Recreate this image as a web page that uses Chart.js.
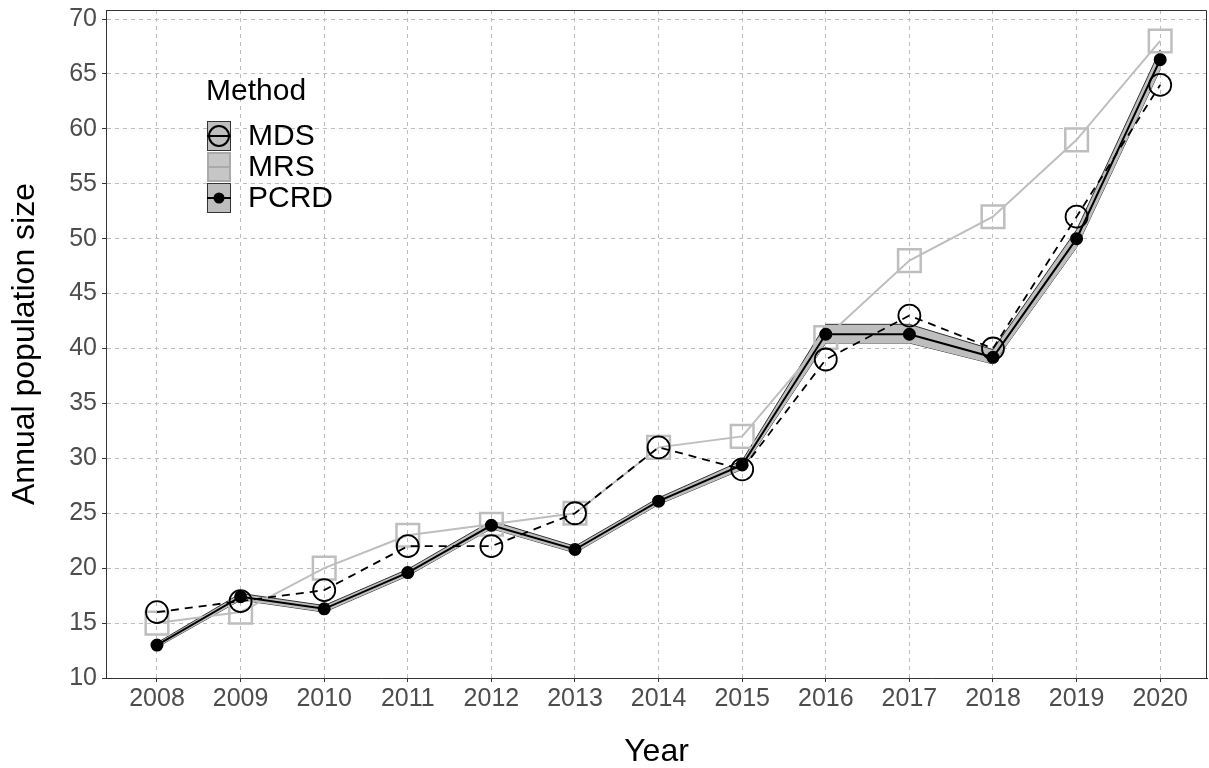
<!DOCTYPE html>
<html>
<head>
<meta charset="utf-8">
<script src="https://cdn.jsdelivr.net/npm/chart.js@4/dist/chart.umd.min.js"></script>
<style>
  html, body { margin: 0; padding: 0; background: #ffffff; }
  #wrap { width: 1209px; height: 768px; position: relative; }
</style>
</head>
<body>
<div id="wrap"><canvas id="popChart"></canvas></div>
<script>
// values
const years = [2008, 2009, 2010, 2011, 2012, 2013, 2014, 2015, 2016, 2017, 2018, 2019, 2020];
const mds = [16, 17, 18, 22, 22, 25, 31, 29, 39, 43, 40, 52, 64];
const mrs = [15, 16, 20, 23, 24, 25, 31, 32, 41, 48, 52, 59, 68];
const pcrd = [13.0, 17.4, 16.3, 19.6, 23.9, 21.7, 26.1, 29.4, 41.3, 41.3, 39.2, 50.0, 66.3];
const pcrdLower = [12.8, 17.1, 16.0, 19.3, 23.6, 21.4, 25.8, 29.0, 40.5, 40.5, 38.6, 49.2, 65.4];
const pcrdUpper = [13.2, 17.7, 16.6, 19.9, 24.3, 22.0, 26.4, 29.8, 42.2, 42.2, 39.9, 50.8, 67.2];
const yTickValues = [10, 15, 20, 25, 30, 35, 40, 45, 50, 55, 60, 65, 70];
const methods = ['MDS', 'MRS', 'PCRD'];

const FONT = "'Liberation Sans', Arial, sans-serif";
const pts = arr => years.map((yr, i) => ({ x: yr, y: arr[i] }));

// no extra room for edge tick labels, the panel goes right to the edges
const noPad = axis => {
  axis.paddingLeft = 0; axis.paddingRight = 0;
  axis.paddingTop = 0; axis.paddingBottom = 0;
};

// legend drawn inside the panel, plus the top/right panel border
const panelExtras = {
  id: 'panelExtras',
  afterDraw(chart) {
    const { ctx, chartArea: a } = chart;
    ctx.save();
    ctx.strokeStyle = '#333333';
    ctx.lineWidth = 1;
    ctx.beginPath();
    ctx.moveTo(a.left, a.top + 0.5);
    ctx.lineTo(a.right - 0.5, a.top + 0.5);
    ctx.lineTo(a.right - 0.5, a.bottom);
    ctx.stroke();

    ctx.fillStyle = '#000000';
    ctx.font = '30px ' + FONT;
    ctx.textBaseline = 'alphabetic';
    ctx.fillText('Method', 206, 100);

    const bx = 207, bw = 24, bh = 30;
    const tops = [121, 152, 183];
    methods.forEach((m, i) => {
      const y = tops[i], cx = bx + bw / 2, cy = y + bh / 2;
      if (m === 'MRS') {
        ctx.fillStyle = '#c6c6c6';
        ctx.fillRect(bx, y, bw, bh);
        ctx.strokeStyle = '#aaaaaa';
        ctx.lineWidth = 2;
        ctx.strokeRect(bx + 1, y + 1, bw - 2, bh - 2);
        ctx.beginPath();
        ctx.moveTo(bx, cy); ctx.lineTo(bx + bw, cy);
        ctx.stroke();
      } else {
        ctx.fillStyle = '#bebebe';
        ctx.fillRect(bx, y, bw, bh);
        ctx.strokeStyle = '#333333';
        ctx.lineWidth = 1;
        ctx.strokeRect(bx + 0.5, y + 0.5, bw - 1, bh - 1);
        ctx.strokeStyle = '#000000';
        ctx.lineWidth = 2;
        ctx.beginPath();
        ctx.moveTo(bx, cy); ctx.lineTo(bx + bw, cy);
        ctx.stroke();
        if (m === 'MDS') {
          ctx.beginPath();
          ctx.arc(cx, cy, 10, 0, Math.PI * 2);
          ctx.stroke();
        } else {
          ctx.fillStyle = '#000000';
          ctx.beginPath();
          ctx.arc(cx, cy, 5.5, 0, Math.PI * 2);
          ctx.fill();
        }
      }
      ctx.fillStyle = '#000000';
      ctx.font = '30px ' + FONT;
      ctx.textBaseline = 'middle';
      ctx.fillText(m, 248, cy + 1);
    });
    ctx.restore();
  }
};

new Chart(document.getElementById('popChart'), {
  type: 'line',
  data: {
    datasets: [
      {
        label: 'PCRD',
        data: pts(pcrd),
        borderColor: '#000000',
        borderWidth: 2,
        pointStyle: 'circle',
        pointRadius: 5.5,
        pointBackgroundColor: '#000000',
        pointBorderColor: '#000000',
        fill: false
      },
      {
        label: 'MDS',
        data: pts(mds),
        borderColor: '#000000',
        borderWidth: 1.8,
        borderDash: [8, 6],
        pointStyle: 'circle',
        pointRadius: 11,
        pointBorderWidth: 1.8,
        pointBorderColor: '#000000',
        pointBackgroundColor: 'rgba(0,0,0,0)',
        fill: false
      },
      {
        label: 'MRS',
        data: pts(mrs),
        borderColor: '#bebebe',
        borderWidth: 2,
        pointStyle: 'rect',
        pointRadius: 16,
        pointBorderWidth: 2.5,
        pointBorderColor: '#bebebe',
        pointBackgroundColor: 'rgba(0,0,0,0)',
        fill: false
      },
      {
        label: 'PCRD upper',
        data: pts(pcrdUpper),
        borderColor: '#333333',
        borderWidth: 1,
        pointRadius: 0,
        backgroundColor: '#bebebe',
        fill: '+1'
      },
      {
        label: 'PCRD lower',
        data: pts(pcrdLower),
        borderColor: '#333333',
        borderWidth: 1,
        pointRadius: 0,
        fill: false
      }
    ]
  },
  options: {
    responsive: true,
    maintainAspectRatio: false,
    animation: false,
    layout: { autoPadding: false, padding: { top: 10, right: 2, left: 0, bottom: 0 } },
    plugins: {
      legend: { display: false },
      tooltip: { enabled: false }
    },
    scales: {
      x: {
        type: 'linear',
        min: 2007.39,
        max: 2020.56,
        afterBuildTicks: axis => { axis.ticks = years.map(v => ({ value: v })); },
        afterFit: axis => { axis.height = 90; noPad(axis); },
        ticks: {
          callback: v => String(v),
          color: '#4d4d4d',
          font: { family: FONT, size: 25 },
          padding: 2,
          maxRotation: 0,
          autoSkip: false
        },
        grid: {
          color: '#bdbdbd',
          lineWidth: 1,
          borderDash: [4, 4],
          tickLength: 4,
          tickColor: '#333333',
          tickWidth: 1
        },
        border: { display: true, color: '#333333', width: 1, dash: [4, 4] },
        title: {
          display: true,
          text: 'Year',
          color: '#000000',
          font: { family: FONT, size: 32, lineHeight: 1 },
          padding: { top: 0, bottom: 0 }
        }
      },
      y: {
        min: 10,
        max: 70.82,
        afterBuildTicks: axis => { axis.ticks = yTickValues.map(v => ({ value: v })); },
        afterFit: axis => { axis.width = 106; noPad(axis); },
        ticks: {
          color: '#4d4d4d',
          font: { family: FONT, size: 25 },
          padding: 5
        },
        grid: {
          color: '#bdbdbd',
          lineWidth: 1,
          borderDash: [4, 4],
          tickLength: 4,
          tickColor: '#333333',
          tickWidth: 1
        },
        border: { display: true, color: '#333333', width: 1, dash: [4, 4] },
        title: {
          display: true,
          text: 'Annual population size',
          color: '#000000',
          font: { family: FONT, size: 32, lineHeight: 1 },
          padding: { top: 9, bottom: 0 }
        }
      }
    }
  },
  plugins: [panelExtras]
});
</script>
</body>
</html>
